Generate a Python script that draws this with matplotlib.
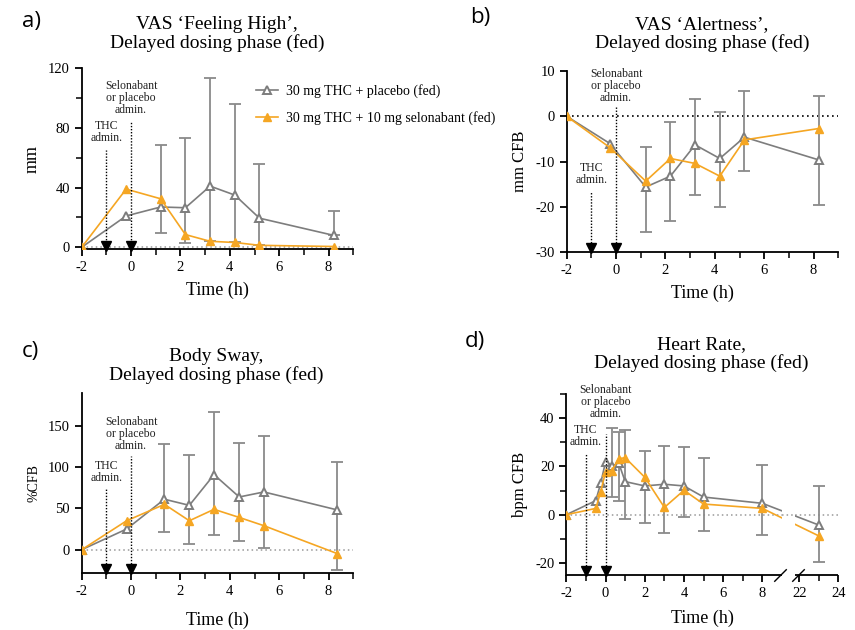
import numpy as np
import matplotlib
matplotlib.use("Agg")
import matplotlib.pyplot as plt
from matplotlib.ticker import MultipleLocator, FixedLocator

plt.rcParams['font.family'] = ['Liberation Serif', 'DejaVu Serif']
plt.rcParams['axes.unicode_minus'] = False
plt.rcParams['axes.linewidth'] = 1.3
plt.rcParams['xtick.major.width'] = 1.3
plt.rcParams['ytick.major.width'] = 1.3
plt.rcParams['xtick.minor.width'] = 1.1
plt.rcParams['ytick.minor.width'] = 1.1
plt.rcParams['xtick.major.size'] = 5
plt.rcParams['ytick.major.size'] = 5
plt.rcParams['xtick.minor.size'] = 4
plt.rcParams['ytick.minor.size'] = 4

GRAY = '#7d7d7d'
EGRAY = '#8a8a8a'
ORANGE = '#F5A623'
nan = np.nan

# ---------------- data ----------------
labels = ['30 mg THC + placebo (fed)', '30 mg THC + 10 mg selonabant (fed)']

# a) VAS Feeling High
x_a = [-2, -0.2, 1.2, 2.2, 3.2, 4.2, 5.2, 8.2]
pla_a = [0, 21, 27, 26.5, 41, 35, 19.5, 8]
sel_a = [0, 39, 32.5, 8.5, 4, 3.2, 1.3, 0.5]
hi_a = [nan, nan, 68.5, 73.5, 113.5, 96, 55.5, 24.5]
lo_a = [nan, nan, 9.5, 3, 4, 3.2, 1.3, 8]

# b) VAS Alertness
x_b = [-2, -0.25, 1.2, 2.2, 3.2, 4.2, 5.2, 8.2]
pla_b = [0, -6, -15.6, -13.2, -6.3, -9.3, -4.6, -9.6]
sel_b = [0, -6.9, -14.3, -9.3, -10.4, -13.2, -5.2, -2.7]
hi_b = [nan, nan, -6.8, -1.3, 3.8, 0.9, 5.5, 4.5]
lo_b = [nan, nan, -25.5, -23.1, -17.3, -20.1, -12.1, -19.5]

# c) Body Sway
x_c = [-2, -0.18, 1.35, 2.36, 3.36, 4.38, 5.38, 8.36]
pla_c = [0, 25, 61, 53.6, 90.7, 63.7, 69.8, 48]
sel_c = [0, 35, 54.8, 35, 48.8, 39, 29, -4.8]
hi_c = [nan, nan, 127.4, 114, 166.5, 128.6, 137, 106.5]
lo_c = [nan, nan, 21.4, 6.9, 18.1, 10.5, 2.4, -25]

# d) Heart rate
x_d = [-2, -0.5, -0.25, 0, 0.33, 0.67, 1, 2, 3, 4, 5, 8, 23]
pla_d = [0, 5.8, 13.0, 22.0, 20.2, 21.4, 13.7, 11.9, 12.6, 11.9, 7.3, 4.7, -4.3]
sel_d = [0, 2.6, 9.5, 17.8, 18.3, 23.2, 23.6, 15.5, 3.0, 10.1, 4.4, 2.6, -8.8]
hi_d = [nan, nan, nan, nan, 36.1, 34.2, 35, 26.5, 28.6, 28.1, 23.3, 20.6, 12]
lo_d = [nan, nan, nan, nan, 7.5, 5.8, -1.9, -3.6, -7.7, -0.8, -6.6, -8.5, -19.7]

admin_x = [-1, 0]
admin_text = ['THC\nadmin.', 'Selonabant\nor placebo\nadmin.']

fig = plt.figure(figsize=(8.55, 6.3), dpi=100)

def make_ax(left, top, width, height):
    W, H = 855.0, 630.0
    return fig.add_axes([left / W, 1 - (top + height) / H, width / W, height / H])

ax_a = make_ax(81.7, 68.3, 271.6, 181.2)
ax_b = make_ax(566.7, 71.0, 271.6, 181.3)
ax_c = make_ax(81.7, 393.3, 271.6, 180.0)
ax_d = make_ax(566.4, 394.0, 272.0, 181.0)


def draw(ax, x, pla, sel, hi, lo, zero_color, zero_lw):
    ax.axhline(0, color=zero_color, ls=(0, (1, 2)), lw=zero_lw, zorder=1)
    xs = np.array(x, float)
    hi = np.array(hi, float)
    lo = np.array(lo, float)
    m = ~np.isnan(hi)
    ax.vlines(xs[m], lo[m], hi[m], color=EGRAY, lw=1.3, zorder=2)
    ax.plot(xs[m], hi[m], ls='none', marker='_', ms=8, mew=1.3, color=EGRAY, zorder=2)
    ax.plot(xs[m], lo[m], ls='none', marker='_', ms=8, mew=1.3, color=EGRAY, zorder=2)
    l1, = ax.plot(x, pla, color=GRAY, lw=1.2, marker='^', ms=5.5, mfc='white',
                  mec=GRAY, mew=1.4, zorder=3, label=labels[0])
    l2, = ax.plot(x, sel, color=ORANGE, lw=1.2, marker='^', ms=6, mfc=ORANGE,
                  mec=ORANGE, zorder=3, label=labels[1])
    ax.spines['top'].set_visible(False)
    ax.spines['right'].set_visible(False)
    ax.tick_params(labelsize=10.5, direction='out')
    return l1, l2


def admin(ax, tops, texty, ybot):
    for xv, t, ty, tt in zip(admin_x, tops, texty, admin_text):
        ax.vlines(xv, ybot, t, color='black', ls=(0, (1, 1.2)), lw=1.0, zorder=4)
        ax.text(xv, ty, tt, ha='center', va='bottom', fontsize=8.5, linespacing=1.0,
                color='#222222')
    ax.plot(admin_x, [0.022, 0.022], ls='none', marker='v', ms=7, color='black',
            transform=ax.get_xaxis_transform(), clip_on=False, zorder=5)


def xaxis_std(ax):
    ax.set_xlim(-2, 9.0)
    ax.xaxis.set_major_locator(FixedLocator([-2, 0, 2, 4, 6, 8]))
    ax.xaxis.set_minor_locator(FixedLocator([-1, 1, 3, 5, 7, 9]))


# ---- a
l1, l2 = draw(ax_a, x_a, pla_a, sel_a, hi_a, lo_a, '#999999', 1.1)
ax_a.set_ylim(-1.5, 120)
ax_a.yaxis.set_major_locator(MultipleLocator(40))
ax_a.yaxis.set_minor_locator(MultipleLocator(20))
xaxis_std(ax_a)
admin(ax_a, [65, 84], [69.5, 88], -1.5)
ax_a.set_ylabel('mm', fontsize=13)
ax_a.yaxis.set_label_coords(-0.15, 0.5)
ax_a.legend(handles=[l1, l2], loc='upper left', bbox_to_anchor=(0.64, 0.912), frameon=False,
            fontsize=10, handlelength=1.6, handletextpad=0.6, labelspacing=0.95,
            borderaxespad=0, borderpad=0)

# ---- b
draw(ax_b, x_b, pla_b, sel_b, hi_b, lo_b, 'black', 1.2)
ax_b.set_ylim(-30, 10)
ax_b.yaxis.set_major_locator(MultipleLocator(10))
xaxis_std(ax_b)
admin(ax_b, [-16.8, 2], [-15.4, 2.8], -30)
ax_b.set_ylabel('mm CFB', fontsize=12)
ax_b.yaxis.set_label_coords(-0.142, 0.5)

# ---- c
draw(ax_c, x_c, pla_c, sel_c, hi_c, lo_c, '#999999', 1.1)
ax_c.set_ylim(-28.5, 189)
ax_c.yaxis.set_major_locator(FixedLocator([0, 50, 100, 150]))
xaxis_std(ax_c)
admin(ax_c, [74, 113], [80, 118.5], -28.5)
ax_c.set_ylabel('%CFB', fontsize=10)
ax_c.yaxis.set_label_coords(-0.151, 0.5)

# ---- d (broken x axis)
bx = [-10, 9.0, 21.8, 40]
by = [-10, 9.0, 9.68, 9.68 + 18.2]
ax_d.set_xscale('function', functions=(lambda v: np.interp(v, bx, by),
                                       lambda v: np.interp(v, by, bx)))
draw(ax_d, x_d, pla_d, sel_d, hi_d, lo_d, '#999999', 1.1)
ax_d.set_xlim(-2, 24)
ax_d.set_ylim(-25, 50)
ax_d.yaxis.set_major_locator(MultipleLocator(20))
ax_d.yaxis.set_minor_locator(MultipleLocator(10))
ax_d.xaxis.set_major_locator(FixedLocator([-2, 0, 2, 4, 6, 8, 22, 24]))
ax_d.xaxis.set_minor_locator(FixedLocator([-1, 1, 3, 5, 7, 23]))
ax_d.axvspan(9.0, 21.8, color='white', zorder=3.5, lw=0)
ax_d.plot([9.0, 21.8], [0, 0], color='#999999', ls=(0, (1, 2)), lw=1.1, zorder=3.6)
ax_d.spines['bottom'].set_visible(False)
for seg in ([-2, 9.0], [21.8, 24]):
    ax_d.plot(seg, [0, 0], color='black', lw=1.3, transform=ax_d.get_xaxis_transform(),
              clip_on=False, zorder=6, solid_capstyle='butt')
ax_d.plot([8.9, 21.95], [0, 0], ls='none', marker=[(-1, -1), (1, 1)], ms=9, mew=1.0,
          color='black', transform=ax_d.get_xaxis_transform(), clip_on=False, zorder=6)
admin(ax_d, [25.7, 33.3], [27.5, 39.3], -25)
ax_d.set_ylabel('bpm CFB', fontsize=12)
ax_d.yaxis.set_label_coords(-0.141, 0.5)

# labels & titles
for ax, ly in ((ax_a, -0.18), (ax_b, -0.18), (ax_c, -0.215), (ax_d, -0.19)):
    ax.set_xlabel('Time (h)', fontsize=13)
    ax.xaxis.set_label_coords(0.5, ly)

titles = ["VAS \u2018Feeling High\u2019,\nDelayed dosing phase (fed)",
          "VAS \u2018Alertness\u2019,\nDelayed dosing phase (fed)",
          "Body Sway,\nDelayed dosing phase (fed)",
          "Heart Rate,\nDelayed dosing phase (fed)"]
title_px = [(217, 52), (702, 52), (216, 384), (701, 372)]
for t, (tx, ty) in zip(titles, title_px):
    fig.text(tx / 855, 1 - ty / 630, t, ha='center', va='bottom', fontsize=14,
             linespacing=1.05)

for lab, (px, py) in zip(['a)', 'b)', 'c)', 'd)'], [(22, 22), (470, 17), (22, 352), (465, 342)]):
    fig.text(px / 855, 1 - py / 630, lab, ha='left', va='center', fontsize=16,
             family=['Open Sans', 'DejaVu Sans'])

fig.savefig('out.png', dpi=100)
